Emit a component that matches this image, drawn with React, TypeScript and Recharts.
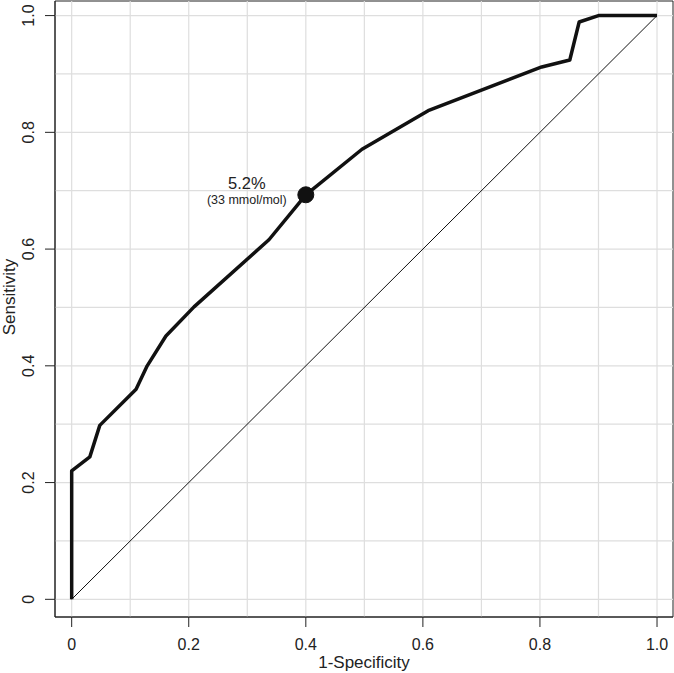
import React from 'react';
import { ComposedChart, Line, XAxis, YAxis, ReferenceLine, ReferenceDot, ReferenceArea } from 'recharts';

// ROC curve: 1-specificity vs sensitivity
const fpr = [0, 0, 0.031, 0.048, 0.11, 0.129, 0.161, 0.209, 0.337, 0.4, 0.496, 0.609, 0.803, 0.851, 0.867, 0.9, 1.0];
const tpr = [0, 0.22, 0.244, 0.298, 0.36, 0.4, 0.451, 0.501, 0.616, 0.693, 0.771, 0.837, 0.912, 0.924, 0.989, 1.0, 1.0];

const diagX = [0, 1];
const diagY = [0, 1];

const xTicks = [0, 0.2, 0.4, 0.6, 0.8, 1.0];
const yTicks = [0, 0.2, 0.4, 0.6, 0.8, 1.0];
const tickLabels = ['0', '0.2', '0.4', '0.6', '0.8', '1.0'];
const gridSteps = [0, 0.1, 0.2, 0.3, 0.4, 0.5, 0.6, 0.7, 0.8, 0.9, 1.0];

const cutoff = { x: 0.4, y: 0.693, label: '5.2%', sub: '(33 mmol/mol)' };

const rocData = fpr.map((x, i) => ({ x, y: tpr[i] }));
const diagData = diagX.map((x, i) => ({ x, y: diagY[i] }));

const X_DOMAIN = [-0.0285, 1.0273];
const Y_DOMAIN = [-0.0303, 1.025];

const FONT = 'Liberation Sans, Arial, Helvetica, sans-serif';

const labelFor = (v: number) => tickLabels[xTicks.indexOf(v)] ?? String(v);

const XTick = (props: any) => {
  const { x, payload } = props;
  return (
    <text x={x} y={650} textAnchor="middle" fontSize={16} fontFamily={FONT} fill="#222">
      {labelFor(payload.value)}
    </text>
  );
};

const YTick = (props: any) => {
  const { y, payload } = props;
  return (
    <text x={34} y={y} transform={`rotate(-90, 34, ${y})`} textAnchor="middle" fontSize={16} fontFamily={FONT} fill="#222">
      {labelFor(payload.value)}
    </text>
  );
};

const CutoffLabel = (props: any) => {
  const { viewBox } = props;
  const cx = viewBox.x + (viewBox.width ?? 0) / 2;
  const cy = viewBox.y + (viewBox.height ?? 0) / 2;
  return (
    <g fontFamily={FONT} fill="#222">
      <text x={cx - 59} y={cy - 6} textAnchor="middle" fontSize={16.5}>{cutoff.label}</text>
      <text x={cx - 59} y={cy + 9} textAnchor="middle" fontSize={12.5}>{cutoff.sub}</text>
    </g>
  );
};

export default function App() {
  return (
    <div style={{ position: 'absolute', left: 0, top: 0, width: 674, height: 673, background: '#fff' }}>
      <ComposedChart width={674} height={673} margin={{ top: 1, right: 1, left: 0, bottom: 0 }}>
        <XAxis
          type="number"
          dataKey="x"
          domain={X_DOMAIN}
          allowDataOverflow
          ticks={xTicks}
          tick={<XTick />}
          tickSize={10}
          tickLine={{ stroke: '#222' }}
          axisLine={{ stroke: '#222' }}
          height={56}
          label={{ value: '1-Specificity', position: 'insideBottom', offset: 5, fontSize: 17, fontFamily: FONT, fill: '#222' }}
        />
        <YAxis
          type="number"
          dataKey="y"
          domain={Y_DOMAIN}
          allowDataOverflow
          ticks={yTicks}
          tick={<YTick />}
          tickSize={10}
          tickLine={{ stroke: '#222' }}
          axisLine={{ stroke: '#222' }}
          width={55}
        />
        {gridSteps.map((v) => (
          <ReferenceLine key={`gx-${v}`} x={v} stroke="#dedede" strokeWidth={1.2} />
        ))}
        {gridSteps.map((v) => (
          <ReferenceLine key={`gy-${v}`} y={v} stroke="#dedede" strokeWidth={1.2} />
        ))}
        <ReferenceArea x1={X_DOMAIN[0]} x2={X_DOMAIN[1]} y1={Y_DOMAIN[0]} y2={Y_DOMAIN[1]} fill="none" stroke="#222" strokeWidth={1} />
        <Line data={diagData} dataKey="y" stroke="#111" strokeWidth={1} dot={false} isAnimationActive={false} />
        <Line data={rocData} dataKey="y" stroke="#111" strokeWidth={3.5} dot={false} isAnimationActive={false} strokeLinejoin="round" />
        <ReferenceDot x={cutoff.x} y={cutoff.y} r={8} fill="#111" stroke="#111" label={<CutoffLabel />} />
      </ComposedChart>
      <svg style={{ position: 'absolute', left: 0, top: 0, pointerEvents: 'none' }} width={30} height={673}>
        <text x={15} y={297} transform="rotate(-90, 15, 297)" textAnchor="middle" fontSize={17} fontFamily={FONT} fill="#222">
          Sensitivity
        </text>
      </svg>
    </div>
  );
}
